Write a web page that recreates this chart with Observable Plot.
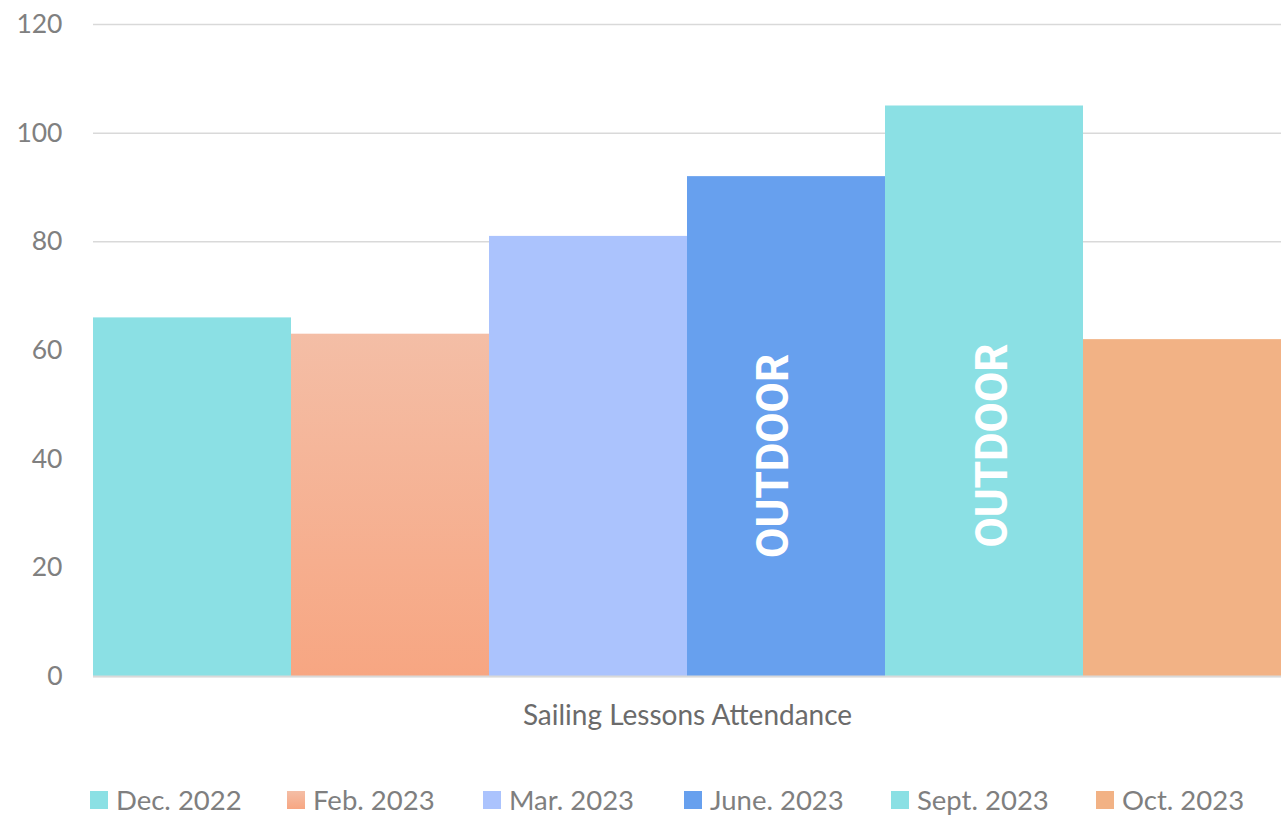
<!DOCTYPE html>
<html><head><meta charset="utf-8">
<script src="https://cdn.jsdelivr.net/npm/d3@7"></script>
<script src="https://cdn.jsdelivr.net/npm/@observablehq/plot@0.6"></script>
<style>
body{margin:0;background:#fff;font-family:Lato,sans-serif;}
#wrap{position:relative;width:1281px;height:822px;overflow:hidden;}
#legend{position:absolute;top:788px;left:0;width:1281px;height:24px;}
.item{position:absolute;top:0;display:flex;align-items:center;height:24px;white-space:nowrap;}
.sw{width:18px;height:18px;margin-right:8px;flex:none;}
.lab{font-size:27.5px;color:#7f7f7f;line-height:24px;}
</style></head><body><div id="wrap"><div id="chart"></div><div id="legend"></div></div>
<script>
const months = ["Dec. 2022","Feb. 2023","Mar. 2023","June. 2023","Sept. 2023","Oct. 2023"];
const attendance = [66, 63, 81, 92, 105, 62];
const barColors = ["#8be0e4","url(#febGrad)","#abc3fd","#67a0ee","#8be0e4","#f2b285"];
const legendColors = ["#8be0e4","linear-gradient(#f4bea6,#f7a682)","#abc3fd","#67a0ee","#8be0e4","#f2b285"];
const yTicks = [0,20,40,60,80,100,120];
const labelMonths = ["June. 2023","Sept. 2023"];
const labelTexts = ["OUTDOOR","OUTDOOR"];
const labelValues = [40.6, 42.5];
const axisTitle = "Sailing Lessons Attendance";

const data = months.map((m,i)=>({month:m, value:attendance[i], color:barColors[i]}));
const labels = labelMonths.map((m,i)=>({month:m, value:labelValues[i], text:labelTexts[i]}));

const defs = () => {
  const d = d3.create("svg:defs");
  const g = d.append("linearGradient").attr("id","febGrad").attr("x1",0).attr("y1",0).attr("x2",0).attr("y2",1);
  g.append("stop").attr("offset","0%").attr("stop-color","#f4bea6");
  g.append("stop").attr("offset","100%").attr("stop-color","#f7a682");
  return d.node();
};

const chart = Plot.plot({
  width: 1281,
  height: 740,
  marginLeft: 93,
  marginRight: 0,
  marginTop: 24,
  marginBottom: 64,
  style: {fontFamily: "Lato, sans-serif", background: "white"},
  x: {domain: months, padding: 0, axis: null},
  y: {domain: [0,120], axis: null},
  color: {type: "identity"},
  marks: [
    defs,
    Plot.gridY(yTicks, {stroke: "#d9d9d9", strokeOpacity: 1, strokeWidth: 1.5}),
    Plot.axisY(yTicks, {tickSize: 0, tickPadding: 31, fontSize: 26.5, fill: "#808080", label: null}),
    Plot.barY(data, {x: "month", y: "value", fill: "color"}),
    Plot.ruleY([0], {stroke: "#d9d9d9", strokeWidth: 2}),
    Plot.text(labels.slice(0,1), {x: "month", y: "value", text: "text", rotate: -90, fill: "white", fontSize: 44, fontWeight: 700, fontFamily: "Roboto", dx: -13}),
    Plot.text(labels.slice(1,2), {x: "month", y: "value", text: "text", rotate: -90, fill: "white", fontSize: 44, fontWeight: 700, fontFamily: "Roboto", dx: 8}),
    Plot.text([axisTitle], {frameAnchor: "bottom", lineAnchor: "middle", dy: 40, fontSize: 28, fill: "#6b6b6b"})
  ]
});
document.getElementById("chart").appendChild(chart);

const legendLeft = [90, 287, 483, 684, 891, 1096];
const legend = d3.select("#legend");
months.forEach((m,i)=>{
  const it = legend.append("div").attr("class","item").style("left", legendLeft[i]+"px");
  it.append("div").attr("class","sw").style("background", legendColors[i]);
  it.append("span").attr("class","lab").text(m);
});
</script></body></html>
